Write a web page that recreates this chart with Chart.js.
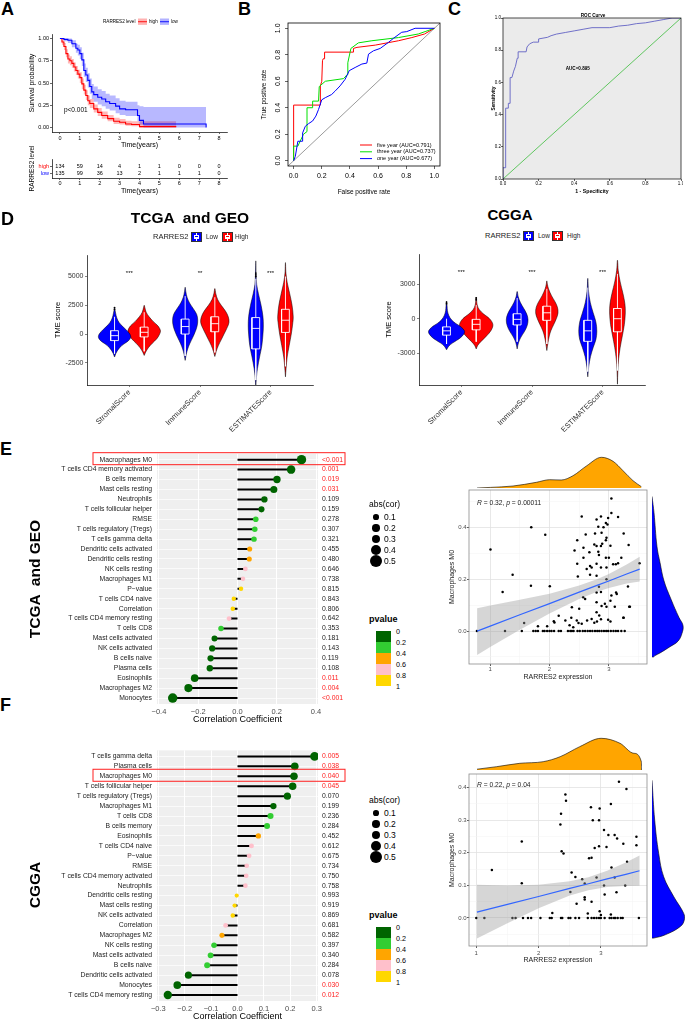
<!DOCTYPE html>
<html><head><meta charset="utf-8">
<script src="https://cdn.jsdelivr.net/npm/chart.js@4.4.1/dist/chart.umd.min.js"></script>
<style>
html,body{margin:0;padding:0;background:#fff;}
body{width:685px;height:1022px;position:relative;overflow:hidden;font-family:'Liberation Sans',Arial,Helvetica,sans-serif;}
.t{position:absolute;white-space:pre;line-height:1;color:#000;}
.r{position:absolute;box-sizing:border-box;}
</style></head><body>
<script>
// ================= DATA =================
// A: Kaplan-Meier (RARRES2 high / low)
const kmHighT  = [0,0.1,0.2,0.3,0.4,0.5,0.6,0.7,0.8,0.9,1.0,1.1,1.2,1.3,1.4,1.5,1.7,1.9,2.1,2.4,2.7,3.0,3.3,3.6,4.0,5.85];
const kmHighS  = [1.0,0.96,0.91,0.83,0.77,0.75,0.72,0.68,0.64,0.60,0.56,0.49,0.42,0.36,0.30,0.27,0.21,0.17,0.135,0.10,0.07,0.06,0.04,0.035,0.01,0.01];
const kmHighLo = [1.0,0.93,0.87,0.79,0.72,0.70,0.67,0.63,0.59,0.55,0.50,0.43,0.37,0.31,0.25,0.22,0.17,0.13,0.10,0.07,0.04,0.035,0.02,0.015,0.0,0.0];
const kmHighHi = [1.0,0.99,0.95,0.88,0.82,0.80,0.77,0.73,0.69,0.65,0.62,0.55,0.48,0.42,0.36,0.32,0.26,0.22,0.18,0.14,0.11,0.095,0.075,0.07,0.07,0.07];
const kmLowT  = [0,0.2,0.4,0.6,0.8,0.9,1.0,1.1,1.2,1.3,1.4,1.5,1.6,1.7,1.9,2.1,2.3,2.5,2.8,3.0,3.3,3.8,3.9,4.0,4.2,7.3,7.35];
const kmLowS  = [1.0,0.99,0.98,0.94,0.89,0.87,0.83,0.76,0.64,0.59,0.53,0.46,0.40,0.37,0.34,0.32,0.29,0.27,0.24,0.21,0.20,0.20,0.135,0.08,0.04,0.04,0.0];
const kmLowLo = [1.0,0.97,0.95,0.90,0.84,0.81,0.77,0.69,0.57,0.51,0.45,0.38,0.32,0.29,0.26,0.24,0.21,0.19,0.16,0.14,0.13,0.13,0.07,0.03,0.0,0.0,0.0];
const kmLowHi = [1.0,1.0,1.0,0.98,0.94,0.93,0.90,0.84,0.72,0.67,0.61,0.55,0.49,0.46,0.43,0.41,0.38,0.36,0.33,0.30,0.29,0.29,0.25,0.24,0.23,0.23,0.23];
const riskTimes = [0,1,2,3,4,5,6,7,8];
const riskHigh  = [134,59,14,4,1,1,0,0,0];
const riskLow   = [135,99,36,13,2,1,1,1,0];

// B: time-dependent ROC
const rocFiveX  = [0,0,0.19,0.19,0.2,0.205,0.21,0.22,0.22,0.425,0.425,0.45,0.58,0.745,0.84,0.93,1];
const rocFiveY  = [0,0.42,0.42,0.565,0.6,0.755,0.77,0.77,0.82,0.82,0.848,0.856,0.873,0.906,0.93,0.957,1];
const rocThreeX = [0,0,0.03,0.07,0.095,0.095,0.135,0.135,0.177,0.182,0.225,0.355,0.38,0.385,0.407,0.46,0.556,0.745,0.886,0.934,1];
const rocThreeY = [0,0.11,0.11,0.2,0.22,0.4,0.4,0.45,0.45,0.56,0.6,0.62,0.65,0.74,0.848,0.89,0.906,0.93,0.957,0.975,1];
const rocOneX   = [0,0.012,0.03,0.06,0.064,0.083,0.106,0.135,0.158,0.177,0.2,0.225,0.27,0.296,0.33,0.366,0.395,0.437,0.485,0.52,0.532,0.567,0.615,0.674,0.709,0.768,0.804,0.863,1];
const rocOneY   = [0,0.033,0.147,0.147,0.21,0.26,0.28,0.3,0.337,0.387,0.46,0.476,0.5,0.527,0.565,0.615,0.68,0.704,0.73,0.737,0.805,0.83,0.848,0.894,0.924,0.97,0.975,1,1];
const rocTicks  = [0,0.2,0.4,0.6,0.8,1];
// C: diagnostic ROC
const rocCX = [0,0,0.015,0.015,0.03,0.03,0.04,0.04,0.05,0.06,0.07,0.08,0.085,0.085,0.13,0.135,0.15,0.17,0.2,0.2,0.25,0.27,0.3,0.35,0.4,0.45,0.5,0.6,0.65,0.7,0.75,0.8,0.85,0.9,0.95,1];
const rocCY = [0,0.07,0.07,0.44,0.44,0.47,0.47,0.63,0.63,0.67,0.7,0.75,0.75,0.79,0.79,0.82,0.84,0.85,0.85,0.87,0.88,0.89,0.9,0.91,0.92,0.93,0.94,0.94,0.95,0.955,0.965,0.97,0.98,0.99,1.0,1.0];

// D: TME scores (violin outlines: [score, relative density])
const tmeGroups = ['StromalScore','ImmuneScore','ESTIMATEScore'];
const tgTicks = [-2500,0,2500,5000];
const tgStromalLow  = [[-2000,0],[-1700,0.08],[-1400,0.2],[-1000,0.45],[-600,0.85],[-300,1.0],[0,0.95],[400,0.7],[800,0.4],[1200,0.2],[1600,0.1],[2000,0.04],[2350,0]];
const tgStromalHigh = [[-1860,0],[-1600,0.08],[-1200,0.25],[-800,0.5],[-400,0.78],[0,0.95],[300,1.0],[700,0.85],[1100,0.55],[1500,0.3],[1900,0.12],[2300,0.04],[2500,0]];
const tgImmuneLow   = [[-2290,0],[-1800,0.08],[-1300,0.2],[-800,0.38],[-300,0.6],[200,0.8],[700,0.95],[1200,1.0],[1700,0.92],[2200,0.65],[2700,0.35],[3200,0.15],[3700,0.05],[4070,0]];
const tgImmuneHigh  = [[-1950,0],[-1500,0.1],[-1000,0.25],[-500,0.45],[0,0.65],[500,0.85],[1000,1.0],[1500,0.95],[2000,0.75],[2500,0.45],[3000,0.2],[3500,0.07],[3950,0]];
const tgEstLow      = [[-4600,0],[-3800,0.08],[-3000,0.22],[-2000,0.5],[-1000,0.8],[0,0.95],[700,1.0],[1500,0.95],[2500,0.7],[3500,0.35],[4300,0.12],[5200,0.04],[6360,0]];
const tgEstHigh     = [[-3720,0],[-3000,0.08],[-2000,0.22],[-1000,0.48],[0,0.75],[1000,0.95],[1500,1.0],[2500,0.85],[3500,0.55],[4500,0.22],[5300,0.06],[6210,0]];
const tgWidthLow  = [0.228,0.178,0.107];
const tgWidthHigh = [0.23,0.2,0.11];
const tgBoxLow  = [[-1700,-570,-140,290,1500],[-1900,0,650,1300,3300],[-4000,-1290,490,1430,4800]];
const tgBoxHigh = [[-1500,-250,150,600,1900],[-1600,200,900,1500,3200],[-2800,140,1200,2150,5000]];
const tgOutliers = [[0.79,2150],[0.79,2300],[2.79,5000],[2.79,5150],[2.79,5300]];
const tgStars = ['***','**','***'];

const cgTicks = [-3000,0,3000];
const cgStromalLow  = [[-2710,0],[-2400,0.12],[-2100,0.35],[-1700,0.75],[-1300,0.98],[-1050,1.0],[-700,0.8],[-400,0.5],[-100,0.28],[300,0.12],[700,0.05],[1100,0.03],[1510,0]];
const cgStromalHigh = [[-2630,0],[-2300,0.1],[-2000,0.28],[-1500,0.62],[-1000,0.9],[-500,1.0],[0,0.8],[400,0.45],[800,0.18],[1200,0.06],[1890,0]];
const cgImmuneLow   = [[-2630,0],[-2100,0.12],[-1600,0.35],[-1100,0.68],[-600,0.92],[-100,1.0],[400,0.88],[900,0.6],[1400,0.3],[1900,0.1],[2370,0]];
const cgImmuneHigh  = [[-2770,0],[-2100,0.1],[-1500,0.22],[-1000,0.38],[-500,0.62],[0,0.85],[500,1.0],[1000,0.95],[1500,0.72],[2000,0.42],[2600,0.15],[3000,0.05],[3290,0]];
const cgEstLow      = [[-5060,0],[-4200,0.1],[-3300,0.3],[-2500,0.6],[-1800,0.9],[-1100,1.0],[-300,0.9],[500,0.6],[1400,0.28],[2400,0.08],[3510,0]];
const cgEstHigh     = [[-5700,0],[-4500,0.05],[-3500,0.15],[-2500,0.35],[-1500,0.62],[-500,0.88],[500,1.0],[1300,0.95],[2200,0.7],[3200,0.35],[4200,0.1],[5090,0]];
const cgWidthLow  = [0.253,0.154,0.128];
const cgWidthHigh = [0.236,0.158,0.111];
const cgBoxLow  = [[-2200,-1430,-1057,-714,0],[-2000,-543,-57,430,1800],[-4600,-1970,-1057,-143,2700]];
const cgBoxHigh = [[-2000,-970,-490,-57,1200],[-2200,-143,514,1086,2600],[-4500,-1140,0,886,3900]];
const cgOutliers = [[0.79,1300],[0.79,1450],[1.21,1650],[1.21,1800]];
const cgStars = ['***','***','***'];

// E: TCGA & GEO correlations
const eCells = ['Macrophages M0','T cells CD4 memory activated','B cells memory','Mast cells resting','Neutrophils','T cells follicular helper','RMSE','T cells regulatory (Tregs)','T cells gamma delta','Dendritic cells activated','Dendritic cells resting','NK cells resting','Macrophages M1','P\u2212value','T cells CD4 naive','Correlation','T cells CD4 memory resting','T cells CD8','Mast cells activated','NK cells activated','B cells naive','Plasma cells','Eosinophils','Macrophages M2','Monocytes'];
const eCor = [0.326,0.273,0.201,0.185,0.137,0.122,0.093,0.088,0.084,0.062,0.060,0.040,0.028,0.018,-0.019,-0.024,-0.043,-0.084,-0.117,-0.129,-0.137,-0.141,-0.218,-0.250,-0.330];
const eP = ['<0.001','0.001','0.019','0.031','0.109','0.159','0.278','0.307','0.321','0.455','0.480','0.646','0.738','0.815','0.843','0.806','0.642','0.353','0.181','0.143','0.119','0.108','0.011','0.004','<0.001'];
const eTicks = [-0.4,-0.2,0,0.2,0.4];
// F: CGGA correlations
const fCells = ['T cells gamma delta','Plasma cells','Macrophages M0','T cells follicular helper','T cells regulatory (Tregs)','Macrophages M1','T cells CD8','B cells memory','Eosinophils','T cells CD4 naive','P\u2212value','RMSE','T cells CD4 memory activated','Neutrophils','Dendritic cells resting','Mast cells resting','NK cells activated','Correlation','Macrophages M2','NK cells resting','Mast cells activated','B cells naive','Dendritic cells activated','Monocytes','T cells CD4 memory resting'];
const fCor = [0.292,0.217,0.214,0.209,0.189,0.136,0.125,0.112,0.079,0.053,0.044,0.035,0.033,0.030,-0.003,-0.011,-0.018,-0.045,-0.059,-0.089,-0.102,-0.115,-0.186,-0.228,-0.264];
const fP = ['0.005','0.038','0.040','0.045','0.070','0.199','0.236','0.284','0.452','0.612','0.675','0.734','0.750','0.758','0.993','0.919','0.869','0.681','0.582','0.397','0.340','0.284','0.078','0.030','0.012'];
const fTicks = [-0.3,-0.2,-0.1,0,0.1,0.2,0.3];
const sizeLegend = [0.1,0.2,0.3,0.4,0.5];
const pLegend = ['0','0.2','0.4','0.6','0.8','1'];

// E scatter: RARRES2 expression vs Macrophages M0 (TCGA & GEO)
const eScat = [[1.005,0.315],[1.21,0.151],[1.378,0.217],[1.692,0.40],[1.687,0.175],[1.928,0.371],[2.005,0.173],[1.572,0.031],[1.805,0.019],[1.96,0.019],[2.083,0.033],[2.155,0.059],[2.072,0.038],[2.267,0.041],[2.338,0.022],[2.4,0.015],[2.377,0.092],[2.5,0.086],[2.488,0.031],[2.8,0.037],[2.933,0.105],[3.243,0.051],[3.343,0.094],
[3.043,0.511],[2.543,0.442],[3.043,0.455],[3.155,0.44],[2.867,0.442],[2.793,0.43],[2.988,0.436],[2.95,0.417],[2.977,0.411],[2.91,0.40],[2.822,0.402],[3.25,0.376],[2.61,0.372],[2.767,0.376],[2.877,0.379],[2.467,0.35],[2.422,0.311],[2.572,0.321],[2.672,0.304],[2.755,0.334],[2.793,0.328],[2.888,0.337],[2.867,0.328],[2.822,0.306],[2.96,0.36],[2.95,0.35],[3.027,0.329],[2.833,0.293],[2.95,0.283],[3.0,0.283],[3.117,0.258],[3.21,0.283],[3.333,0.332],[3.517,0.262],[2.467,0.26],[2.572,0.283],[2.683,0.251],[2.71,0.245],[2.793,0.26],[2.867,0.245],[2.96,0.245],[3.072,0.258],[3.155,0.262],[2.627,0.239],[2.477,0.21],[2.683,0.217],[2.793,0.213],[2.96,0.2],[3.322,0.172],[2.833,0.171],[2.867,0.151],[2.793,0.149],[3.122,0.149],[3.133,0.143],[3.043,0.137],[2.567,0.13],[2.6,0.124],[2.793,0.111],[2.877,0.097],[2.96,0.094],[3.027,0.117],[3.1,0.094],[3.355,0.094],[3.25,0.051],[2.793,0.073],[2.838,0.06],[2.367,0.051],[2.46,0.041],[2.543,0.028],[2.633,0.041],[2.71,0.047],[2.755,0.032],[2.867,0.046],[2.988,0.044],[3.027,0.037],
[0.777,0],[1.25,0],[1.533,0],[1.727,0],[1.767,0],[1.805,0],[1.888,0],[1.917,0],[1.96,0],[2.0,0],[2.033,0],[2.077,0],[2.155,0],[2.193,0],[2.31,0],[2.35,0],[2.377,0],[2.405,0],[2.472,0],[2.51,0],[2.56,0],[2.6,0],[2.643,0],[2.683,0],[2.722,0],[2.767,0],[2.805,0],[2.838,0],[2.877,0],[2.917,0],[2.955,0],[2.988,0],[3.033,0],[3.077,0],[3.117,0],[3.155,0],[3.21,0],[3.267,0]];
const eCiX  = [0.78,1.0,1.5,2.0,2.5,2.8,3.0,3.3,3.52];
const eFit  = [0.0,0.019,0.063,0.106,0.150,0.176,0.193,0.220,0.239];
const eCiUp = [0.088,0.099,0.121,0.144,0.176,0.2,0.22,0.257,0.287];
const eCiLo = [-0.092,-0.061,0.005,0.068,0.124,0.152,0.166,0.183,0.191];
const eTopDens = [[0.777,0],[1.0,0.6],[1.377,2],[1.766,5.7],[1.988,8.3],[2.18,8],[2.377,12.3],[2.6,22],[2.85,30.7],[3.044,26.7],[3.21,17.3],[3.377,7.3],[3.516,1.3]];
const eRightDens = [[0,0.512],[2,0.45],[5,0.32],[8,0.26],[12,0.19],[19,0.12],[27,0.05],[31,0.02],[30,-0.01],[26,-0.04],[18,-0.061],[8,-0.085],[3,-0.095],[1.5,-0.1],[0,-0.1]];

// F scatter (CGGA)
const fScat = [[1.25,0.147],[1.73,0.235],[1.73,0.107],[2.43,0.379],[2.44,0.36],[2.36,0.32],[2.35,0.287],[2.37,0.205],[2.40,0.198],[2.84,0.34],[2.98,0.336],[2.87,0.3],[2.97,0.3],[3.16,0.35],[3.29,0.418],[3.41,0.396],[3.05,0.27],[3.12,0.255],[3.22,0.255],[3.26,0.244],[3.36,0.228],[3.57,0.249],[3.57,0.223],[2.90,0.215],[2.97,0.22],[3.09,0.218],[2.81,0.183],[2.85,0.185],[2.53,0.14],[2.59,0.126],[2.70,0.119],[2.74,0.106],[2.93,0.124],[3.17,0.155],[3.22,0.124],[3.42,0.173],[2.51,0.08],[2.61,0.044],[2.74,0.064],[2.74,0.057],[2.85,0.05],[3.05,0.1],[3.06,0.072],[3.25,0.079],[3.39,0.1],[2.79,0.014],[2.98,0.021],[3.00,0.009],[3.16,0.011],[2.22,0.015],
[1.0,0],[1.13,0],[1.58,0],[1.63,0],[1.75,0],[1.83,0],[1.88,0],[2.03,0],[2.18,0],[2.21,0],[2.36,0],[2.38,0],[2.48,0],[2.51,0],[2.59,0],[2.65,0],[2.79,0],[2.85,0],[2.89,0],[2.93,0],[2.97,0],[3.0,0],[3.06,0],[3.14,0],[3.17,0],[3.21,0],[3.23,0],[3.27,0],[3.32,0],[3.35,0],[3.61,0]];
const fCiX  = [1.01,1.5,2.0,2.5,2.8,3.1,3.4,3.62];
const fFit  = [0.018,0.042,0.066,0.091,0.105,0.120,0.134,0.145];
const fCiUp = [0.102,0.100,0.102,0.113,0.125,0.145,0.170,0.192];
const fCiLo = [-0.063,-0.016,0.030,0.069,0.085,0.095,0.098,0.099];
const fTopDens = [[1.01,0.8],[1.32,3.3],[1.69,6.7],[2.06,8.3],[2.33,13.3],[2.64,23.3],[2.98,31.7],[3.28,26.7],[3.5,16.7],[3.62,8],[3.621,0]];
const fRightDens = [[0,0.417],[2.7,0.296],[6.7,0.195],[11.7,0.124],[21.7,0.064],[31.7,0.013],[32.3,-0.007],[28.3,-0.027],[13.3,-0.052],[1.7,-0.062],[0,-0.062]];

// ================= HELPERS =================
const FF = "'Liberation Sans', Arial, Helvetica, sans-serif";
const GR = '#4D4D4D';
Chart.defaults.font.family = FF;
Chart.defaults.color = '#000';
Chart.defaults.plugins.legend.display = false;
Chart.defaults.plugins.tooltip.enabled = false;

const zip = (xs, ys) => xs.map((x, i) => ({x, y: ys[i]}));
const pairs = a => a.map(([x, y]) => ({x, y}));
const setTicks = vals => (s => { s.ticks = vals.map(v => ({value: v})); });
function line(data, color, w, extra) {
  return Object.assign({data, showLine: true, borderColor: color, borderWidth: w, pointRadius: 0, fill: false, tension: 0}, extra || {});
}
function extras(o, ox, oy) {
  return {
    id: 'extras',
    beforeDraw(chart) {
      if (!o.bg) return;
      const c = chart.chartArea, ctx = chart.ctx;
      ctx.save(); ctx.fillStyle = o.bg; ctx.fillRect(c.left, c.top, c.right - c.left, c.bottom - c.top); ctx.restore();
    },
    afterDraw(chart) {
      const c = chart.chartArea, ctx = chart.ctx;
      const X = it => it.pageX !== undefined ? it.pageX - ox : chart.scales.x.getPixelForValue(it.x);
      const Y = it => it.pageY !== undefined ? it.pageY - oy : chart.scales.y.getPixelForValue(it.y);
      ctx.save();
      if (o.frame) { ctx.strokeStyle = o.frame; ctx.lineWidth = o.frameWidth || 0.8; ctx.strokeRect(c.left, c.top, c.right - c.left, c.bottom - c.top); }
      (o.rects || []).forEach(r => { ctx.fillStyle = r.color; ctx.fillRect(r.x - ox, r.y - oy, r.w, r.h); });
      (o.segs || []).forEach(s => { ctx.strokeStyle = s.color; ctx.lineWidth = s.width || 1; ctx.beginPath(); ctx.moveTo(s.x1 - ox, s.y1 - oy); ctx.lineTo(s.x2 - ox, s.y2 - oy); ctx.stroke(); });
      (o.boxes || []).forEach(b => { const yc = chart.scales.y.getPixelForValue(b.row); ctx.strokeStyle = b.color; ctx.lineWidth = b.width || 1; ctx.strokeRect(b.x1 - ox, yc + b.dy1, b.x2 - b.x1, b.dy2 - b.dy1); });
      (o.items || []).forEach(it => {
        ctx.save();
        ctx.font = it.font; ctx.fillStyle = it.color || '#000'; ctx.textAlign = it.align || 'center'; ctx.textBaseline = 'middle';
        ctx.translate(X(it), Y(it));
        if (it.rot) ctx.rotate(it.rot);
        ctx.fillText(it.text, 0, 0);
        ctx.restore();
      });
      ctx.restore();
    }
  };
}
function makeChart(L, T, W, H, m, cfg, ex) {
  const cv = document.createElement('canvas');
  const cw = Math.round(m.l + W + m.r), ch = Math.round(m.t + H + m.b);
  const left = L - m.l, top = T - m.t;
  cv.width = cw; cv.height = ch;
  cv.style.cssText = `position:absolute;left:${left}px;top:${top}px;width:${cw}px;height:${ch}px;`;
  document.body.appendChild(cv);
  const o = cfg.options = cfg.options || {};
  Object.assign(o, {responsive: false, maintainAspectRatio: false, animation: false, events: [], devicePixelRatio: 1});
  const sx = o.scales.x, sy = o.scales.y;
  const xs = sx.display !== false, ys = sy.display !== false;
  o.layout = {padding: {top: m.t, right: m.r, left: ys ? 0 : m.l, bottom: xs ? 0 : m.b}};
  if (xs) sx.afterFit = s => { s.height = m.b; s.paddingLeft = 0; s.paddingRight = 0; };
  if (ys) sy.afterFit = s => { s.width = m.l; s.paddingTop = 0; s.paddingBottom = 0; };
  cfg.plugins = [extras(ex || {}, left, top)];
  return new Chart(cv, cfg);
}
function classicAxis(o) {
  return {
    type: 'linear', min: o.min, max: o.max, reverse: !!o.reverse,
    afterBuildTicks: setTicks(o.ticks),
    grid: {display: true, drawOnChartArea: false, drawTicks: true, tickLength: o.tl === undefined ? 2 : o.tl, color: o.tickColor || '#000', lineWidth: 0.6},
    border: {display: o.border !== false, color: '#000', width: 0.7},
    ticks: {display: !o.hideLabels, font: {size: o.font}, color: o.color || '#000', padding: o.pad === undefined ? 1 : o.pad, autoSkip: false,
            maxRotation: o.rot || 0, minRotation: o.rot || 0, callback: o.fmt || (v => String(v))},
    title: {display: !!o.title, text: o.title || '', font: {size: o.titleSize || 7, weight: o.titleBold ? 'bold' : 'normal'}, padding: o.titlePad || 0, color: '#000'}
  };
}
function T(html, x, y, size, o) {
  o = o || {};
  const d = document.createElement('div');
  d.className = 't';
  d.innerHTML = html;
  const ax = o.align === 'c' ? '-50%' : o.align === 'r' ? '-100%' : '0';
  d.style.cssText = `left:${x}px;top:${y}px;font-size:${size}px;${o.bold ? 'font-weight:bold;' : ''}color:${o.color || '#000'};transform:translate(${ax},-50%)${o.rot ? ' rotate(' + o.rot + 'deg)' : ''};`;
  document.body.appendChild(d);
}
function R(x, y, w, h, css) {
  const d = document.createElement('div');
  d.className = 'r';
  d.style.cssText += `left:${x}px;top:${y}px;width:${w}px;height:${h}px;${css}`;
  document.body.appendChild(d);
}
const pColor = s => { const p = s.startsWith('<') ? 0 : parseFloat(s); return p < 0.2 ? '#006400' : p < 0.4 ? '#32CD32' : p < 0.6 ? '#FFA500' : p < 0.8 ? '#FFC0CB' : '#FFD700'; };
const pRed = s => (s.startsWith('<') || parseFloat(s) < 0.05);
const dotR = v => 2.05 + 8.1 * Math.abs(v);

// ================= PANEL A =================
makeChart(52, 34, 175, 98, {l: 24, t: 20, r: 3, b: 17}, {
  type: 'scatter',
  data: {datasets: [
    line(zip(kmLowT, kmLowS), '#0000FF', 1.1, {stepped: true}),
    line(zip(kmHighT, kmHighS), '#FF0000', 1.1, {stepped: true}),
    line(zip(kmLowT, kmLowHi), 'rgba(0,0,0,0)', 0, {stepped: true}),
    line(zip(kmLowT, kmLowLo), 'rgba(0,0,0,0)', 0, {stepped: true, fill: '-1', backgroundColor: 'rgba(0,0,255,0.28)'}),
    line(zip(kmHighT, kmHighHi), 'rgba(0,0,0,0)', 0, {stepped: true}),
    line(zip(kmHighT, kmHighLo), 'rgba(0,0,0,0)', 0, {stepped: true, fill: '-1', backgroundColor: 'rgba(255,0,0,0.28)'})
  ]},
  options: {scales: {
    x: classicAxis({min: -0.4, max: 8.4, ticks: riskTimes, font: 5.5, pad: 1, title: 'Time(years)', titleSize: 7}),
    y: classicAxis({min: -0.05, max: 1.05, ticks: [0, 0.25, 0.5, 0.75, 1], font: 5.5, pad: 1, fmt: v => v.toFixed(2), title: 'Survival probability', titleSize: 7})
  }}
}, {
  items: [
    {pageX: 103, pageY: 21.7, text: 'RARRES2 level', font: `4.6px ${FF}`, align: 'left'},
    {pageX: 149, pageY: 21.7, text: 'high', font: `4.6px ${FF}`, align: 'left'},
    {pageX: 171, pageY: 21.7, text: 'low', font: `4.6px ${FF}`, align: 'left'},
    {x: 0.2, y: 0.2, text: 'p<0.001', font: `6.5px ${FF}`, align: 'left'}
  ],
  rects: [
    {x: 138, y: 18.5, w: 9, h: 6.4, color: 'rgba(255,0,0,0.3)'}, {x: 138, y: 21.3, w: 9, h: 0.9, color: '#FF0000'},
    {x: 160, y: 18.5, w: 9, h: 6.4, color: 'rgba(0,0,255,0.3)'}, {x: 160, y: 21.3, w: 9, h: 0.9, color: '#0000FF'}
  ]
});
// risk table
makeChart(52, 159, 175, 19, {l: 24, t: 16, r: 3, b: 17}, {
  type: 'scatter', data: {datasets: []},
  options: {scales: {
    x: classicAxis({min: -0.4, max: 8.4, ticks: riskTimes, font: 5.5, pad: 0, title: 'Time(years)', titleSize: 7}),
    y: (() => { const a = classicAxis({min: -0.714, max: 2, ticks: [0, 1], font: 5.5, pad: 1, fmt: v => v === 1 ? 'high' : 'low', title: 'RARRES2 level', titleSize: 6.5});
                a.ticks.color = c => (c.tick && c.tick.value === 1) ? '#FF0000' : '#0000FF'; return a; })()
  }}
}, {
  items: riskHigh.map((n, i) => ({x: riskTimes[i], y: 1, text: String(n), font: `5.5px ${FF}`}))
    .concat(riskLow.map((n, i) => ({x: riskTimes[i], y: 0, text: String(n), font: `5.5px ${FF}`})))
});

// ================= PANEL B =================
makeChart(288, 23, 152, 143, {l: 28, t: 4, r: 5, b: 30}, {
  type: 'scatter',
  data: {datasets: [
    line(zip(rocOneX, rocOneY), '#0000FF', 1),
    line(zip(rocThreeX, rocThreeY), '#00E000', 1),
    line(zip(rocFiveX, rocFiveY), '#FF0000', 1),
    line([{x: -0.04, y: -0.04}, {x: 1.04, y: 1.04}], '#555555', 0.6)
  ]},
  options: {scales: {
    x: classicAxis({min: -0.04, max: 1.04, ticks: rocTicks, fmt: v => v.toFixed(1), font: 7, tl: 3, pad: 2.5, border: false, title: 'False positive rate', titleSize: 6.5}),
    y: classicAxis({min: -0.04, max: 1.04, ticks: rocTicks, font: 7, tl: 3, border: false, hideLabels: true, title: 'True positive rate', titleSize: 6.5})
  }}
}, {
  frame: '#000', frameWidth: 0.8,
  segs: [
    {x1: 360, y1: 145, x2: 372, y2: 145, color: '#FF0000', width: 1},
    {x1: 360, y1: 151.8, x2: 372, y2: 151.8, color: '#00E000', width: 1},
    {x1: 360, y1: 158.6, x2: 372, y2: 158.6, color: '#0000FF', width: 1}
  ],
  items: [
    {pageX: 377, pageY: 145, text: 'five year (AUC=0.791)', font: `5.5px ${FF}`, align: 'left'},
    {pageX: 377, pageY: 151.8, text: 'three year (AUC=0.737)', font: `5.5px ${FF}`, align: 'left'},
    {pageX: 377, pageY: 158.6, text: 'one year (AUC=0.677)', font: `5.5px ${FF}`, align: 'left'}
  ].concat(rocTicks.map(v => ({pageX: 278.5, y: v, text: v.toFixed(1), font: `7px ${FF}`, rot: -Math.PI / 2})))
});

// ================= PANEL C =================
makeChart(503, 18, 178, 161, {l: 14, t: 6, r: 2, b: 18}, {
  type: 'scatter',
  data: {datasets: [
    line(zip(rocCX, rocCY), '#6262C4', 0.9),
    line([{x: 0, y: 0}, {x: 1, y: 1}], '#3CBC3C', 0.8)
  ]},
  options: {scales: {
    x: classicAxis({min: 0, max: 1, ticks: rocTicks, fmt: v => v.toFixed(1), font: 4.5, tl: 2, pad: 0, border: false, title: '1 - Specificity', titleSize: 5.2, titleBold: true, titlePad: 2}),
    y: classicAxis({min: 0, max: 1, ticks: rocTicks, fmt: v => v.toFixed(1), font: 4.5, tl: 2, pad: 0, border: false, title: 'Sensitivity', titleSize: 4.8, titleBold: true, titlePad: 2})
  }}
}, {
  bg: '#EBEBEB', frame: '#000', frameWidth: 0.7,
  items: [
    {pageX: 593, pageY: 15.5, text: 'ROC Curve', font: `bold 4.6px ${FF}`},
    {x: 0.42, y: 0.685, text: 'AUC=0.895', font: `bold 4.6px ${FF}`}
  ]
});

// ================= PANEL D =================
function violinPoly(c, prof, hw) {
  const left = prof.map(([y, f]) => ({x: c - f * hw, y}));
  const right = prof.slice(0, -1).reverse().map(([y, f]) => ({x: c + f * hw, y}));
  return left.concat(right);
}
function boxPath(c, b, hw) {
  const [w0, q1, md, q3, w1] = b, a = c - hw, z = c + hw;
  return [{x: a, y: q1}, {x: z, y: q1}, {x: z, y: q3}, {x: a, y: q3}, {x: a, y: q1}, {x: c, y: null},
          {x: a, y: md}, {x: z, y: md}, {x: c, y: null},
          {x: c, y: q3}, {x: c, y: w1}, {x: c, y: null}, {x: c, y: q1}, {x: c, y: w0}];
}
function tmeChart(L, T, W, H, ml, lowP, highP, wLow, wHigh, bLow, bHigh, outl, ticks, ymin, ymax, stars, starY) {
  const ds = [];
  const dodge = 0.21, bw = 0.055;
  for (let g = 0; g < 3; g++) {
    ds.push(line(boxPath(g + 1 - dodge, bLow[g], bw), '#FFFFFF', 0.9));
    ds.push(line(boxPath(g + 1 + dodge, bHigh[g], bw), '#FFFFFF', 0.9));
  }
  ds.push({data: pairs(outl), pointRadius: 0.9, pointBackgroundColor: '#000', pointBorderWidth: 0, showLine: false});
  for (let g = 0; g < 3; g++) {
    ds.push(line(violinPoly(g + 1 - dodge, lowP[g], wLow[g]), '#000', 0.5, {fill: 'shape', backgroundColor: '#0000FF', tension: 0.35}));
    ds.push(line(violinPoly(g + 1 + dodge, highP[g], wHigh[g]), '#000', 0.5, {fill: 'shape', backgroundColor: '#FF0000', tension: 0.35}));
  }
  makeChart(L, T, W, H, {l: ml, t: 2, r: 4, b: 52}, {
    type: 'scatter', data: {datasets: ds},
    options: {scales: {
      x: classicAxis({min: 0.4, max: 3.6, ticks: [1, 2, 3], fmt: v => tmeGroups[v - 1], font: 7.5, color: '#333', rot: 45, pad: 1, tl: 2, tickColor: '#333'}),
      y: classicAxis({min: ymin, max: ymax, ticks: ticks, font: 7, color: '#333', pad: 1.5, tl: 2, tickColor: '#333', title: 'TME score', titleSize: 7.5})
    }}
  }, {items: stars.map((s, i) => ({x: i + 1, y: starY, text: s, font: `6px ${FF}`}))});
}
tmeChart(87, 253, 226, 132, 34, [tgStromalLow, tgImmuneLow, tgEstLow], [tgStromalHigh, tgImmuneHigh, tgEstHigh], tgWidthLow, tgWidthHigh, tgBoxLow, tgBoxHigh, tgOutliers, tgTicks, -4430, 6870, tgStars, 5300);
tmeChart(419, 252, 226, 133, 35, [cgStromalLow, cgImmuneLow, cgEstLow], [cgStromalHigh, cgImmuneHigh, cgEstHigh], cgWidthLow, cgWidthHigh, cgBoxLow, cgBoxHigh, cgOutliers, cgTicks, -5770, 5630, cgStars, 4030);

// ================= PANELS E/F lollipops =================
function lolliChart(T, cells, cors, ps, xmin, xmax, ticks, boxRow) {
  const seg = cors.flatMap((v, i) => [{x: 0, y: i}, {x: v, y: i}, {x: 0, y: null}]);
  makeChart(157, T, 161, 251, {l: 132, t: 4, r: 30, b: 21}, {
    type: 'scatter',
    data: {datasets: [
      {data: cors.map((v, i) => ({x: v, y: i})), pointRadius: cors.map(dotR), pointBackgroundColor: ps.map(pColor), pointBorderWidth: 0, showLine: false},
      line(seg, '#000', 2)
    ]},
    options: {scales: {
      x: {type: 'linear', min: xmin, max: xmax, afterBuildTicks: setTicks(ticks),
          grid: {color: '#FFFFFF', lineWidth: 1, drawTicks: false}, border: {display: false},
          ticks: {font: {size: 7.5}, color: GR, padding: 3, autoSkip: false, maxRotation: 0, callback: v => (v < 0 ? '\u2212' : '') + Math.abs(v).toFixed(1)},
          title: {display: true, text: 'Correlation Coefficient', font: {size: 9}, padding: 0, color: '#000'}},
      y: {type: 'linear', min: -0.6, max: 24.6, reverse: true, afterBuildTicks: setTicks(cells.map((_, i) => i)),
          grid: {color: '#FFFFFF', lineWidth: 0.7, drawTicks: false}, border: {display: false},
          ticks: {font: {size: 6.8}, color: '#222', padding: 5, autoSkip: false, callback: v => cells[v]}}
    }}
  }, {
    bg: '#EFEFEF',
    items: ps.map((p, i) => ({pageX: 322, y: i, text: p, align: 'left', font: `6.8px ${FF}`, color: pRed(p) ? '#FF2020' : '#222'})),
    boxes: [{row: boxRow, x1: 93, x2: 345, dy1: -7, dy2: 5, color: '#FF2020', width: 1}]
  });
}
lolliChart(453, eCells, eCor, eP, -0.41, 0.41, eTicks, 0);
lolliChart(750, fCells, fCor, fP, -0.305, 0.305, fTicks, 2);

// ================= PANELS E/F scatter =================
function scatterChart(T, H, mb, xr, yr, xt, yt, majY, pts, ciX, fit, up, lo) {
  const majX = v => Math.abs(v - Math.round(v)) < 1e-9;
  const band = zip(ciX, up).concat(zip(ciX, lo).reverse());
  const gridFor = maj => ({color: c => maj(c.tick ? c.tick.value : 0) ? '#E2E2E2' : '#F3F3F3',
                           lineWidth: c => maj(c.tick ? c.tick.value : 0) ? 0.8 : 0.5,
                           tickColor: c => maj(c.tick ? c.tick.value : 0) ? '#333' : 'rgba(0,0,0,0)',
                           tickLength: 2, drawTicks: true});
  makeChart(469, T, 180, H, {l: 21, t: 2, r: 2, b: mb}, {
    type: 'scatter',
    data: {datasets: [
      line(zip(ciX, fit), '#3366FF', 1.2),
      line(band, 'rgba(0,0,0,0)', 0, {fill: 'shape', backgroundColor: 'rgba(153,153,153,0.4)'}),
      {data: pairs(pts), pointRadius: 1.25, pointBackgroundColor: '#000', pointBorderWidth: 0, showLine: false}
    ]},
    options: {scales: {
      x: {type: 'linear', min: xr[0], max: xr[1], afterBuildTicks: setTicks(xt), grid: gridFor(majX), border: {display: false},
          ticks: {font: {size: 6}, color: GR, padding: mb === 17 ? 0 : 1.5, autoSkip: false, maxRotation: 0, callback: v => majX(v) ? String(v) : ''},
          title: {display: true, text: 'RARRES2 expression', font: {size: 7}, padding: 0, color: '#222'}},
      y: {type: 'linear', min: yr[0], max: yr[1], afterBuildTicks: setTicks(yt), grid: gridFor(majY), border: {display: false},
          ticks: {font: {size: 6}, color: GR, padding: 0.5, autoSkip: false, callback: v => majY(v) ? v.toFixed(1) : ''},
          title: {display: true, text: 'Macrophages M0', font: {size: 7}, padding: 0, color: '#222'}}
    }}
  }, {frame: '#8C8C8C', frameWidth: 0.8});
}
function densTop(T, H, xr, ymax, d) {
  makeChart(469, T, 180, H, {l: 0, t: 0, r: 0, b: 0}, {
    type: 'scatter',
    data: {datasets: [line(pairs(d), '#000', 0.6, {fill: 'origin', backgroundColor: '#FFA500', cubicInterpolationMode: 'monotone'})]},
    options: {scales: {x: {type: 'linear', display: false, min: xr[0], max: xr[1]}, y: {type: 'linear', display: false, min: 0, max: ymax}}}
  });
}
function densRight(T, H, yr, xmax, d) {
  makeChart(652, T, 33, H, {l: 0, t: 0, r: 0, b: 0}, {
    type: 'scatter',
    data: {datasets: [line(pairs(d), '#000', 0.6, {fill: 'shape', backgroundColor: '#0000FF', tension: 0.4})]},
    options: {scales: {x: {type: 'linear', display: false, min: 0, max: xmax}, y: {type: 'linear', display: false, min: yr[0], max: yr[1]}}}
  });
}
scatterChart(488, 176, 17, [0.643, 3.643], [-0.127, 0.544], [1, 1.5, 2, 2.5, 3, 3.5], [-0.1, 0, 0.1, 0.2, 0.3, 0.4, 0.5],
  v => Math.abs(v * 5 - Math.round(v * 5)) < 1e-9, eScat, eCiX, eFit, eCiUp, eCiLo);
densTop(455, 33, [0.643, 3.643], 33, eTopDens);
densRight(488, 176, [-0.127, 0.544], 33, eRightDens);

scatterChart(772, 174, 18, [0.883, 3.74], [-0.086, 0.442], [1, 1.5, 2, 2.5, 3, 3.5], [-0.05, 0, 0.05, 0.1, 0.15, 0.2, 0.25, 0.3, 0.35, 0.4],
  v => Math.abs(v * 10 - Math.round(v * 10)) < 1e-9, fScat, fCiX, fFit, fCiUp, fCiLo);
densTop(736, 34, [0.883, 3.74], 34, fTopDens);
densRight(772, 174, [-0.086, 0.442], 33, fRightDens);

// ================= HTML TEXT / LEGENDS =================
T('A', 1, 8.5, 18, {bold: 1});
T('B', 238, 8.5, 18, {bold: 1});
T('C', 448, 9, 18, {bold: 1});
T('D', 1, 218.5, 18, {bold: 1});
T('E', 0, 448.5, 18, {bold: 1});
T('F', 0, 704.5, 18, {bold: 1});

T('TCGA  and GEO', 190, 218, 15.5, {bold: 1, align: 'c'});
T('CGGA', 510, 213.5, 15, {bold: 1, align: 'c'});
function key(x, y, col) {
  R(x, y, 11, 10, `background:${col};border:0.5px solid #333;`);
  R(x + 5.2, y + 1, 0.7, 8, 'background:#fff;');
  R(x + 2.8, y + 2.6, 5.5, 4.8, `background:${col};border:0.8px solid #fff;`);
  R(x + 2.8, y + 4.7, 5.5, 0.8, 'background:#fff;');
}
T('RARRES2', 153, 237, 7.5, {color: '#222'});
key(191, 232, '#0000FF'); T('Low', 206, 237, 6.5, {color: '#222'});
key(222, 232, '#FF0000'); T('High', 235, 237, 6.5, {color: '#222'});
T('RARRES2', 485, 236, 7.5, {color: '#222'});
key(523, 231, '#0000FF'); T('Low', 538, 236, 6.5, {color: '#222'});
key(552, 231, '#FF0000'); T('High', 567, 236, 6.5, {color: '#222'});

T('TCGA  and GEO', 35, 579, 15.5, {bold: 1, align: 'c', rot: -90});
T('CGGA', 35, 885, 15.5, {bold: 1, align: 'c', rot: -90});

const pCols = ['#006400', '#32CD32', '#FFA500', '#FFC0CB', '#FFD700'];
[0, 296].forEach(dy => {
  T('abs(cor)', 369, 504 + dy, 8.5);
  sizeLegend.forEach((v, k) => {
    const r = dotR(v), cy = 517 + 11 * k + dy;
    R(376 - r, cy - r, 2 * r, 2 * r, 'background:#000;border-radius:50%;');
    T(String(v), 384, cy, 8.5);
  });
  T('pvalue', 369, 619 + dy, 9, {bold: 1});
  pCols.forEach((c, i) => R(376, 631 + dy + 11 * i, 15, 11, `background:${c};`));
  pLegend.forEach((l, i) => T(l, 396, 632 + dy + 11 * i, 7.2, {color: '#000'}));
});
T('<i>R</i> = 0.32, <i>p</i> = 0.00011', 477, 503, 6.7, {color: '#222'});
T('<i>R</i> = 0.22, <i>p</i> = 0.04', 477, 785, 6.7, {color: '#222'});
</script></body></html>
